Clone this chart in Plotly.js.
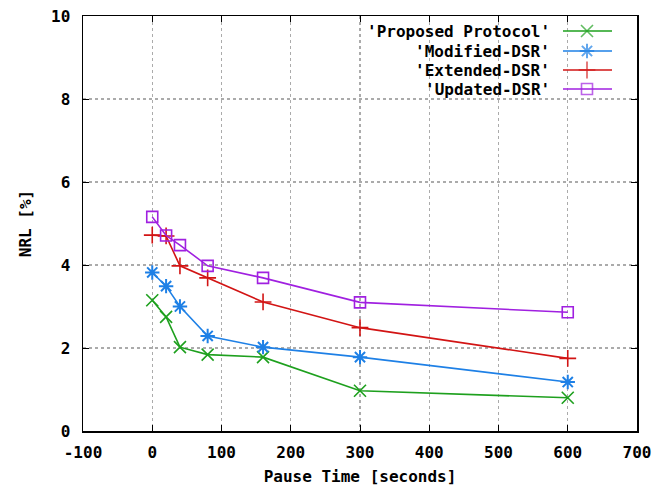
<!DOCTYPE html>
<html>
<head>
<meta charset="utf-8">
<script src="https://cdn.plot.ly/plotly-3.0.1.min.js"></script>
<style>html,body{margin:0;padding:0;background:#fff;}#chart{width:668px;height:486px;}</style>
</head>
<body>
<div id="chart"></div>
<script>
// ---- data ----
const pauseTime = [0, 20, 40, 80, 160, 300, 600];
const seriesNames = ["'Proposed Protocol'", "'Modified-DSR'", "'Extended-DSR'", "'Updated-DSR'"];
const proposed = [3.15, 2.75, 2.02, 1.84, 1.78, 0.97, 0.80];
const modified = [3.82, 3.49, 3.00, 2.29, 2.02, 1.78, 1.18];
const extended = [4.72, 4.70, 3.98, 3.69, 3.11, 2.49, 1.75];
const updated  = [5.16, 4.71, 4.48, 3.98, 3.69, 3.10, 2.86];
const xTicks = [-100, 0, 100, 200, 300, 400, 500, 600, 700];
const yTicks = [0, 2, 4, 6, 8, 10];

// ---- styles ----
const colors = ['#1ea01e', '#1e80e6', '#d21414', '#a020e0'];
const symbols = ['x-thin-open', 'asterisk-open', 'cross-thin-open', 'square-open'];
const sizes = [12, 12, 12, 11];
const allSeries = [proposed, modified, extended, updated];
const FONT = 'DejaVu Sans Mono, monospace';

const traces = allSeries.map((ys, i) => ({
  x: pauseTime, y: ys, type: 'scatter', mode: 'lines+markers',
  name: seriesNames[i], showlegend: false,
  line: {color: colors[i], width: 1.6},
  marker: {symbol: symbols[i], size: sizes[i], color: colors[i], line: {color: colors[i], width: i === 1 ? 2 : 1.6}}
}));

// legend (gnuplot style: text left, sample right) drawn on a pixel-mapped overlay axis
const plotL = 83, plotR = 637, plotT = 16, plotB = 431;
const legRows = [31, 51, 70, 89];
const sampleX0 = 563, sampleX1 = 612, sampleXm = 587, textRight = 552;
const annotations = [];
seriesNames.forEach((n, i) => {
  traces.push({
    x: [sampleX0, sampleXm, sampleX1], y: [legRows[i], legRows[i], legRows[i]],
    xaxis: 'x2', yaxis: 'y2', type: 'scatter', mode: 'lines+markers', showlegend: false,
    hoverinfo: 'skip',
    line: {color: colors[i], width: 1.6},
    marker: {symbol: symbols[i], size: [0, sizes[i], 0], color: colors[i], line: {color: colors[i], width: i === 1 ? 2 : 1.6}}
  });
  annotations.push({
    x: textRight, y: legRows[i], xref: 'x2', yref: 'y2', text: n, showarrow: false,
    xanchor: 'right', yanchor: 'middle',
    font: {family: FONT, size: 16, color: '#000', weight: 'bold'}
  });
});

const axisCommon = {
  showline: true, linecolor: '#000', linewidth: 1.5, mirror: 'ticks',
  ticks: 'inside', ticklen: 6, tickcolor: '#000', tickwidth: 1,
  showgrid: true, gridcolor: '#ababab', griddash: 'dot', gridwidth: 1.3,
  zeroline: false,
  tickfont: {family: FONT, size: 16, color: '#000', weight: 'bold'}
};

const layout = {
  width: 668, height: 486,
  margin: {l: plotL, r: 668 - plotR, t: plotT, b: 486 - plotB},
  paper_bgcolor: '#fff', plot_bgcolor: '#fff',
  showlegend: false,
  xaxis: Object.assign({}, axisCommon, {
    range: [-100, 700], tickvals: xTicks, ticktext: xTicks.map(String),
    ticklabelstandoff: 6,
    title: {text: 'Pause Time [seconds]', font: {family: FONT, size: 16, color: '#000', weight: 'bold'}, standoff: 15}
  }),
  yaxis: Object.assign({}, axisCommon, {
    range: [0, 10], tickvals: yTicks, ticktext: yTicks.map(String),
    ticklabelstandoff: 8,
    title: {text: 'NRL [%]', font: {family: FONT, size: 16, color: '#000', weight: 'bold'}, standoff: 15}
  }),
  xaxis2: {overlaying: 'x', range: [plotL, plotR], visible: false, fixedrange: true},
  yaxis2: {overlaying: 'y', range: [plotB, plotT], visible: false, fixedrange: true},
  annotations: annotations
};

Plotly.newPlot('chart', traces, layout, {displayModeBar: false, staticPlot: true});
</script>
</body>
</html>
